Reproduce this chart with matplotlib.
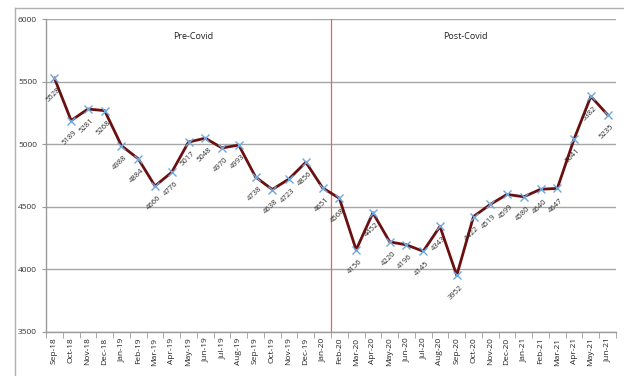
import matplotlib.pyplot as plt
from matplotlib.lines import Line2D

# monthly values, Sep-18 .. Jun-21
months = ["Sep-18", "Oct-18", "Nov-18", "Dec-18", "Jan-19", "Feb-19", "Mar-19",
          "Apr-19", "May-19", "Jun-19", "Jul-19", "Aug-19", "Sep-19", "Oct-19",
          "Nov-19", "Dec-19", "Jan-20", "Feb-20", "Mar-20", "Apr-20", "May-20",
          "Jun-20", "Jul-20", "Aug-20", "Sep-20", "Oct-20", "Nov-20", "Dec-20",
          "Jan-21", "Feb-21", "Mar-21", "Apr-21", "May-21", "Jun-21"]
values = [5528, 5189, 5281, 5268, 4988, 4884, 4666, 4776, 5017, 5048, 4970,
          4993, 4738, 4638, 4723, 4856, 4651, 4568, 4156, 4452, 4220, 4196,
          4145, 4343, 3952, 4422, 4519, 4599, 4580, 4640, 4647, 5041, 5382, 5235]
period_labels = ["Pre-Covid", "Post-Covid"]
split_after = "Jan-20"
y_ticks = [3500, 4000, 4500, 5000, 5500, 6000]

plt.rcParams["font.family"] = ["Open Sans", "DejaVu Sans"]

fig = plt.figure(figsize=(6.24, 3.76), dpi=100)
ax = fig.add_axes([46 / 624, 44 / 376, 570 / 624, 313 / 376])

x = list(range(len(months)))
ax.plot(x, values, color="#6b1010", lw=2.0, zorder=3)
ax.plot(x, values, ls="none", marker="x", ms=6, mew=1.0, color="#6fa8dc", zorder=4)

for xi, v in zip(x, values):
    ax.annotate(str(v), (xi, v), xytext=(-1, -17), textcoords="offset pixels",
                ha="center", va="center", rotation=45, fontsize=5.5, color="#2a2a2a")

ax.set_xlim(-0.5, len(months) - 0.5)
ax.set_ylim(y_ticks[0], y_ticks[-1])
ax.set_yticks(y_ticks)
ax.set_xticks(x)
ax.set_xticklabels(months, rotation=90, fontsize=6, color="#222222")
ax.tick_params(axis="x", length=0, pad=4)
ax.tick_params(axis="y", labelsize=6, length=3, color="#9a9a9a", labelcolor="#333333")

# tick marks sit between categories
ax.set_xticks([i - 0.5 for i in range(len(months) + 1)], minor=True)
ax.tick_params(axis="x", which="minor", length=4, color="#9a9a9a")

ax.grid(axis="y", color="#a6a6a6", lw=1.0)
ax.set_axisbelow(True)
for side in ("top", "right"):
    ax.spines[side].set_visible(False)
for side in ("left", "bottom"):
    ax.spines[side].set_color("#9a9a9a")
    ax.spines[side].set_linewidth(1.0)

# divider between the two periods
split_x = months.index(split_after) + 0.5
ax.axvline(split_x, color="#e06666", lw=0.9, zorder=2)

ax.text(8.3, 5860, period_labels[0], ha="center", va="center", fontsize=6.5, color="#222222")
ax.text(24.5, 5860, period_labels[1], ha="center", va="center", fontsize=6.5, color="#222222")

# chart area frame
fig.add_artist(Line2D([15 / 624, 15 / 624], [0, 1 - 8 / 376], color="#b0b0b0", lw=1.0))
fig.add_artist(Line2D([15 / 624, 1], [1 - 8 / 376, 1 - 8 / 376], color="#b0b0b0", lw=1.0))

fig.savefig("out.png", dpi=100)
